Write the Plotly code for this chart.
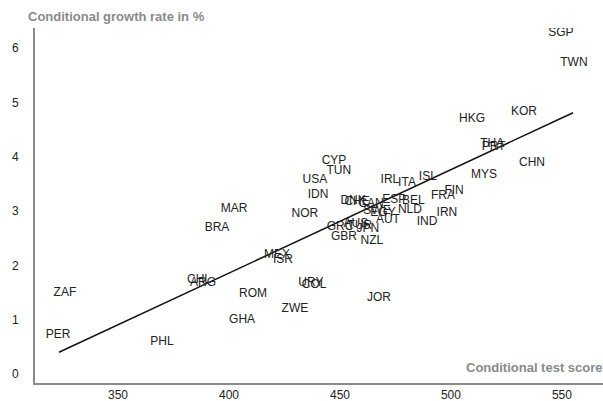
import plotly.graph_objects as go

countries = ["SGP", "TWN", "HKG", "KOR", "THA", "PRT", "CHN", "MYS", "CYP", "TUN",
             "USA", "IDN", "IRL", "ITA", "ISL", "FIN", "FRA", "ESP", "BEL", "NLD",
             "IRN", "IND", "NOR", "MAR", "BRA", "DNK", "CHE", "CAN", "SWE", "EGY",
             "AUT", "GRC", "AUS", "TUR", "JPN", "GBR", "NZL", "MEX", "ISR", "CHL",
             "ARG", "URY", "COL", "ROM", "ZWE", "JOR", "GHA", "ZAF", "PER", "PHL"]
test_score = [549.5, 555.4, 509.5, 532.9, 518.6, 519.2, 536.5, 514.9, 447.3, 449.5,
              438.7, 440.1, 472.5, 480.2, 489.6, 501.4, 496.4, 474.5, 483.0, 481.5,
              498.2, 489.2, 434.2, 402.3, 394.6, 455.9, 457.7, 464.0, 466.7, 469.4,
              471.6, 450.0, 457.2, 459.0, 462.6, 451.8, 464.4, 421.6, 424.3, 386.5,
              388.3, 436.9, 438.3, 410.8, 429.7, 467.6, 405.9, 326.1, 323.0, 369.8]
growth_rate = [6.28, 5.73, 4.70, 4.83, 4.24, 4.18, 3.89, 3.66, 3.92, 3.74,
               3.57, 3.30, 3.57, 3.52, 3.63, 3.37, 3.28, 3.20, 3.19, 3.02,
               2.96, 2.80, 2.95, 3.04, 2.69, 3.19, 3.17, 3.13, 3.00, 2.96,
               2.84, 2.71, 2.76, 2.73, 2.67, 2.52, 2.45, 2.19, 2.10, 1.73,
               1.68, 1.68, 1.64, 1.47, 1.20, 1.40, 0.99, 1.49, 0.72, 0.59]

fit_x = [323.4, 555.0]
fit_y = [0.40, 4.81]

x_ticks = [350, 400, 450, 500, 550]
y_ticks = [0, 1, 2, 3, 4, 5, 6]

fig = go.Figure()
fig.add_trace(go.Scatter(
    x=fit_x, y=fit_y, mode="lines",
    line=dict(color="#111111", width=1.5),
    hoverinfo="skip", showlegend=False))
fig.add_trace(go.Scatter(
    x=test_score, y=growth_rate, mode="text", text=countries,
    textposition="middle center",
    textfont=dict(family="Liberation Sans, Arial, sans-serif", size=12, color="#222222"),
    showlegend=False))

fig.update_layout(
    width=603, height=401,
    margin=dict(l=35, r=0, t=28, b=18),
    paper_bgcolor="white", plot_bgcolor="white",
    font=dict(family="Liberation Sans, Arial, sans-serif", size=12, color="#222222"),
    xaxis=dict(range=[312.6, 568.5], tickvals=x_ticks, showgrid=False, zeroline=False,
               showline=True, linecolor="#8a8a8a", linewidth=2, ticks="",
               tickfont=dict(size=12, color="#222222")),
    yaxis=dict(range=[-0.166, 6.37], tickvals=y_ticks, showgrid=False, zeroline=False,
               showline=True, linecolor="#8a8a8a", linewidth=2, ticks="",
               ticklabelstandoff=12,
               tickfont=dict(size=12, color="#222222")),
    annotations=[
        dict(text="<b>Conditional growth rate in %</b>", xref="paper", yref="paper",
             x=0, y=1.0, xanchor="left", yanchor="bottom", xshift=-9, yshift=2,
             showarrow=False, font=dict(size=13, color="#8a8a8a")),
        dict(text="<b>Conditional test score</b>", xref="paper", yref="paper",
             x=1.0, y=0.0, xanchor="right", yanchor="bottom", xshift=2, yshift=6,
             showarrow=False, font=dict(size=13, color="#8a8a8a")),
    ],
)

fig.write_html("out.html", config={"displayModeBar": False},
               post_script="document.body.style.margin='0';")
